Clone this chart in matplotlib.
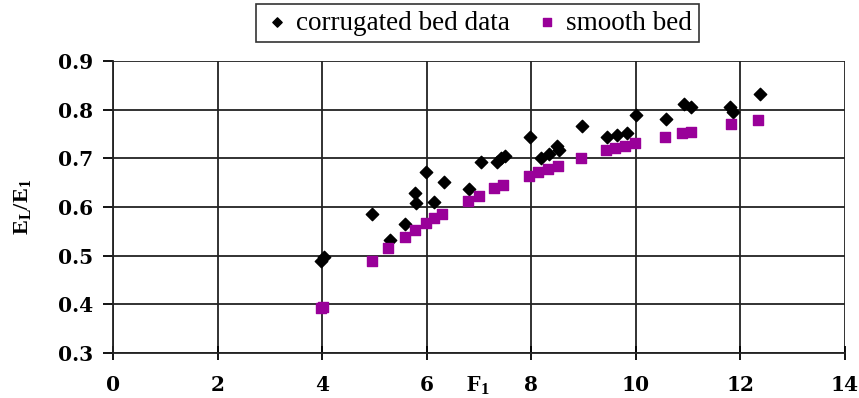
import matplotlib
matplotlib.use('Agg')
import matplotlib.pyplot as plt

# corrugated bed data (F1, EL/E1)
corr_x = [3.98, 4.03, 4.95, 5.29, 5.58, 5.78, 5.80, 5.98, 6.15, 6.33, 6.82, 7.04,
          7.34, 7.42, 7.49, 7.98, 8.19, 8.34, 8.49, 8.53, 8.97, 9.45, 9.64, 9.84,
          10.01, 10.57, 10.92, 11.06, 11.81, 11.86, 12.37]
corr_y = [0.488, 0.497, 0.585, 0.533, 0.564, 0.629, 0.609, 0.671, 0.610, 0.652, 0.636, 0.693,
          0.693, 0.700, 0.705, 0.744, 0.700, 0.708, 0.725, 0.716, 0.766, 0.743, 0.748, 0.751,
          0.789, 0.780, 0.812, 0.806, 0.805, 0.796, 0.831]

# smooth bed
smooth_x = [3.98, 4.02, 4.95, 5.27, 5.58, 5.78, 5.98, 6.15, 6.30, 6.79, 7.00, 7.29,
            7.46, 7.96, 8.14, 8.33, 8.51, 8.95, 9.43, 9.61, 9.80, 9.99, 10.56, 10.88,
            11.05, 11.82, 12.34]
smooth_y = [0.392, 0.395, 0.489, 0.516, 0.539, 0.552, 0.567, 0.577, 0.586, 0.612, 0.622, 0.638,
            0.645, 0.664, 0.672, 0.677, 0.684, 0.700, 0.716, 0.721, 0.726, 0.731, 0.743, 0.751,
            0.753, 0.771, 0.779]

xticks = [0, 2, 4, 6, 8, 10, 12, 14]
yticks = [0.3, 0.4, 0.5, 0.6, 0.7, 0.8, 0.9]

plt.rcParams['font.family'] = ['Liberation Serif', 'DejaVu Serif']
plt.rcParams['mathtext.fontset'] = 'custom'
plt.rcParams['mathtext.rm'] = 'Liberation Serif:bold'
plt.rcParams['mathtext.it'] = 'Liberation Serif:bold'
plt.rcParams['mathtext.bf'] = 'Liberation Serif:bold'

fig = plt.figure(figsize=(8.59, 3.98), dpi=100)
ax = fig.add_axes([0.1315, 0.113, 0.852, 0.734])

ax.scatter(corr_x, corr_y, marker='D', s=40, color='black', zorder=3,
           label='corrugated bed data')
ax.scatter(smooth_x, smooth_y, marker='s', s=48, color='#990099', zorder=3,
           label='smooth bed')

ax.set_xlim(0, 14)
ax.set_ylim(0.3, 0.9)
ax.set_xticks(xticks)
ax.set_yticks(yticks)
ax.set_xticklabels([str(v) for v in xticks])
ax.set_yticklabels(['%.1f' % v for v in yticks])
ax.grid(True, color='#222222', linewidth=1.3)
ax.set_axisbelow(True)
for side in ['top', 'right']:
    ax.spines[side].set_visible(False)
for side in ['left', 'bottom']:
    ax.spines[side].set_linewidth(1.3)
    ax.spines[side].set_color('#222222')

ax.tick_params(axis='x', direction='inout', length=10, width=1.3, pad=11)
ax.tick_params(axis='y', direction='out', length=7, width=1.3, pad=7)
for lab in ax.get_xticklabels() + ax.get_yticklabels():
    lab.set_fontfamily('DejaVu Serif')
    lab.set_fontweight('bold')
    lab.set_fontsize(14.5)

fig.text(0.557, 0.03, r'$\mathrm{F_1}$', fontsize=17, ha='center', va='center')
fig.text(0.026, 0.48, r'$\mathrm{E_L/E_1}$', fontsize=16, rotation=90,
         ha='center', va='center')

leg = fig.legend(loc='center', bbox_to_anchor=(0.556, 0.942), ncol=2,
                 fontsize=19.5, frameon=True, fancybox=False, edgecolor='black',
                 handletextpad=0.2, columnspacing=0.9, borderpad=0.25,
                 handlelength=1.0, scatterpoints=1, markerscale=0.75)
leg.get_frame().set_linewidth(1.2)

fig.savefig('out.png', dpi=100)
